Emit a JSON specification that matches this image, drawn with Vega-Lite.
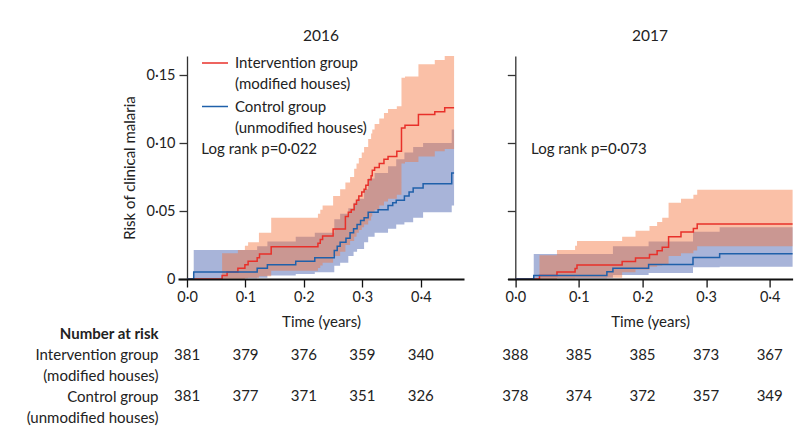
{
  "$schema": "https://vega.github.io/schema/vega-lite/v6.json",
  "background": "white",
  "padding": {"left": 26, "top": 28, "right": 5, "bottom": 2},
  "config": {
    "font": "Lato",
    "view": {"stroke": null},
    "style": {"guide-label": {"lineHeight": 21}},
    "axis": {"labelFont": "Lato", "titleFont": "Lato", "labelColor": "#222", "titleColor": "#222", "labelFontSize": 14.5, "titleFontSize": 15, "titleFontWeight": "normal", "grid": false},
    "title": {"font": "Lato", "fontSize": 15.5, "fontWeight": "normal", "color": "#222"},
    "legend": {"labelFont": "Lato", "labelFontSize": 15, "labelColor": "#222"}
  },
  "datasets": {
    "km": [
      {"year": "2016", "group": "Intervention", "t": 0, "risk": 0},
      {"year": "2016", "group": "Intervention", "t": 0.060, "risk": 0.0026},
      {"year": "2016", "group": "Intervention", "t": 0.0685, "risk": 0.0052},
      {"year": "2016", "group": "Intervention", "t": 0.087, "risk": 0.0079},
      {"year": "2016", "group": "Intervention", "t": 0.099, "risk": 0.0105},
      {"year": "2016", "group": "Intervention", "t": 0.1045, "risk": 0.0131},
      {"year": "2016", "group": "Intervention", "t": 0.120, "risk": 0.0157},
      {"year": "2016", "group": "Intervention", "t": 0.124, "risk": 0.0184},
      {"year": "2016", "group": "Intervention", "t": 0.144, "risk": 0.0237},
      {"year": "2016", "group": "Intervention", "t": 0.224, "risk": 0.0263},
      {"year": "2016", "group": "Intervention", "t": 0.228, "risk": 0.029},
      {"year": "2016", "group": "Intervention", "t": 0.232, "risk": 0.0316},
      {"year": "2016", "group": "Intervention", "t": 0.250, "risk": 0.0368},
      {"year": "2016", "group": "Intervention", "t": 0.271, "risk": 0.046},
      {"year": "2016", "group": "Intervention", "t": 0.276, "risk": 0.049},
      {"year": "2016", "group": "Intervention", "t": 0.281, "risk": 0.051},
      {"year": "2016", "group": "Intervention", "t": 0.286, "risk": 0.055},
      {"year": "2016", "group": "Intervention", "t": 0.290, "risk": 0.058},
      {"year": "2016", "group": "Intervention", "t": 0.294, "risk": 0.061},
      {"year": "2016", "group": "Intervention", "t": 0.299, "risk": 0.064},
      {"year": "2016", "group": "Intervention", "t": 0.303, "risk": 0.066},
      {"year": "2016", "group": "Intervention", "t": 0.306, "risk": 0.069},
      {"year": "2016", "group": "Intervention", "t": 0.310, "risk": 0.073},
      {"year": "2016", "group": "Intervention", "t": 0.315, "risk": 0.076},
      {"year": "2016", "group": "Intervention", "t": 0.317, "risk": 0.080},
      {"year": "2016", "group": "Intervention", "t": 0.321, "risk": 0.082},
      {"year": "2016", "group": "Intervention", "t": 0.329, "risk": 0.085},
      {"year": "2016", "group": "Intervention", "t": 0.337, "risk": 0.088},
      {"year": "2016", "group": "Intervention", "t": 0.344, "risk": 0.090},
      {"year": "2016", "group": "Intervention", "t": 0.359, "risk": 0.094},
      {"year": "2016", "group": "Intervention", "t": 0.367, "risk": 0.111},
      {"year": "2016", "group": "Intervention", "t": 0.373, "risk": 0.113},
      {"year": "2016", "group": "Intervention", "t": 0.396, "risk": 0.121},
      {"year": "2016", "group": "Intervention", "t": 0.424, "risk": 0.123},
      {"year": "2016", "group": "Intervention", "t": 0.441, "risk": 0.126},
      {"year": "2016", "group": "Intervention", "t": 0.457, "risk": 0.126},
      {"year": "2016", "group": "Control", "t": 0, "risk": 0},
      {"year": "2016", "group": "Control", "t": 0.0114, "risk": 0.0052},
      {"year": "2016", "group": "Control", "t": 0.120, "risk": 0.0079},
      {"year": "2016", "group": "Control", "t": 0.1375, "risk": 0.0105},
      {"year": "2016", "group": "Control", "t": 0.186, "risk": 0.0131},
      {"year": "2016", "group": "Control", "t": 0.2186, "risk": 0.0157},
      {"year": "2016", "group": "Control", "t": 0.252, "risk": 0.021},
      {"year": "2016", "group": "Control", "t": 0.257, "risk": 0.024},
      {"year": "2016", "group": "Control", "t": 0.262, "risk": 0.027},
      {"year": "2016", "group": "Control", "t": 0.272, "risk": 0.030},
      {"year": "2016", "group": "Control", "t": 0.279, "risk": 0.034},
      {"year": "2016", "group": "Control", "t": 0.285, "risk": 0.037},
      {"year": "2016", "group": "Control", "t": 0.291, "risk": 0.040},
      {"year": "2016", "group": "Control", "t": 0.297, "risk": 0.043},
      {"year": "2016", "group": "Control", "t": 0.303, "risk": 0.045},
      {"year": "2016", "group": "Control", "t": 0.310, "risk": 0.049},
      {"year": "2016", "group": "Control", "t": 0.327, "risk": 0.051},
      {"year": "2016", "group": "Control", "t": 0.344, "risk": 0.054},
      {"year": "2016", "group": "Control", "t": 0.352, "risk": 0.056},
      {"year": "2016", "group": "Control", "t": 0.358, "risk": 0.058},
      {"year": "2016", "group": "Control", "t": 0.372, "risk": 0.061},
      {"year": "2016", "group": "Control", "t": 0.380, "risk": 0.064},
      {"year": "2016", "group": "Control", "t": 0.387, "risk": 0.067},
      {"year": "2016", "group": "Control", "t": 0.404, "risk": 0.070},
      {"year": "2016", "group": "Control", "t": 0.453, "risk": 0.078},
      {"year": "2016", "group": "Control", "t": 0.457, "risk": 0.078},
      {"year": "2017", "group": "Intervention", "t": 0, "risk": 0},
      {"year": "2017", "group": "Intervention", "t": 0.038, "risk": 0.0026},
      {"year": "2017", "group": "Intervention", "t": 0.0655, "risk": 0.0052},
      {"year": "2017", "group": "Intervention", "t": 0.094, "risk": 0.0078},
      {"year": "2017", "group": "Intervention", "t": 0.097, "risk": 0.0103},
      {"year": "2017", "group": "Intervention", "t": 0.168, "risk": 0.0129},
      {"year": "2017", "group": "Intervention", "t": 0.189, "risk": 0.0155},
      {"year": "2017", "group": "Intervention", "t": 0.211, "risk": 0.0181},
      {"year": "2017", "group": "Intervention", "t": 0.223, "risk": 0.0207},
      {"year": "2017", "group": "Intervention", "t": 0.231, "risk": 0.0233},
      {"year": "2017", "group": "Intervention", "t": 0.241, "risk": 0.031},
      {"year": "2017", "group": "Intervention", "t": 0.2605, "risk": 0.0345},
      {"year": "2017", "group": "Intervention", "t": 0.280, "risk": 0.0371},
      {"year": "2017", "group": "Intervention", "t": 0.286, "risk": 0.0404},
      {"year": "2017", "group": "Intervention", "t": 0.436, "risk": 0.0404},
      {"year": "2017", "group": "Control", "t": 0, "risk": 0},
      {"year": "2017", "group": "Control", "t": 0.029, "risk": 0.0026},
      {"year": "2017", "group": "Control", "t": 0.144, "risk": 0.0053},
      {"year": "2017", "group": "Control", "t": 0.1535, "risk": 0.0079},
      {"year": "2017", "group": "Control", "t": 0.2096, "risk": 0.0106},
      {"year": "2017", "group": "Control", "t": 0.2794, "risk": 0.0159},
      {"year": "2017", "group": "Control", "t": 0.3213, "risk": 0.0185},
      {"year": "2017", "group": "Control", "t": 0.436, "risk": 0.0185}
    ],
    "ci": [
      {"year": "2016", "group": "Control", "t": 0.0114, "lo": 0.0005, "hi": 0.0213},
      {"year": "2016", "group": "Control", "t": 0.120, "lo": 0.001, "hi": 0.024},
      {"year": "2016", "group": "Control", "t": 0.1375, "lo": 0.0025, "hi": 0.0275},
      {"year": "2016", "group": "Control", "t": 0.186, "lo": 0.0037, "hi": 0.031},
      {"year": "2016", "group": "Control", "t": 0.2186, "lo": 0.005, "hi": 0.034},
      {"year": "2016", "group": "Control", "t": 0.252, "lo": 0.0098, "hi": 0.044},
      {"year": "2016", "group": "Control", "t": 0.262, "lo": 0.012, "hi": 0.048},
      {"year": "2016", "group": "Control", "t": 0.276, "lo": 0.017, "hi": 0.052},
      {"year": "2016", "group": "Control", "t": 0.285, "lo": 0.020, "hi": 0.056},
      {"year": "2016", "group": "Control", "t": 0.291, "lo": 0.022, "hi": 0.059},
      {"year": "2016", "group": "Control", "t": 0.303, "lo": 0.027, "hi": 0.066},
      {"year": "2016", "group": "Control", "t": 0.310, "lo": 0.031, "hi": 0.074},
      {"year": "2016", "group": "Control", "t": 0.321, "lo": 0.034, "hi": 0.078},
      {"year": "2016", "group": "Control", "t": 0.344, "lo": 0.037, "hi": 0.083},
      {"year": "2016", "group": "Control", "t": 0.358, "lo": 0.040, "hi": 0.088},
      {"year": "2016", "group": "Control", "t": 0.372, "lo": 0.0417, "hi": 0.093},
      {"year": "2016", "group": "Control", "t": 0.387, "lo": 0.045, "hi": 0.097},
      {"year": "2016", "group": "Control", "t": 0.404, "lo": 0.049, "hi": 0.100},
      {"year": "2016", "group": "Control", "t": 0.453, "lo": 0.054, "hi": 0.110},
      {"year": "2016", "group": "Control", "t": 0.457, "lo": 0.054, "hi": 0.110},
      {"year": "2016", "group": "Intervention", "t": 0.060, "lo": 0, "hi": 0.019},
      {"year": "2016", "group": "Intervention", "t": 0.087, "lo": 0, "hi": 0.0213},
      {"year": "2016", "group": "Intervention", "t": 0.099, "lo": 0.0005, "hi": 0.0245},
      {"year": "2016", "group": "Intervention", "t": 0.1045, "lo": 0.001, "hi": 0.027},
      {"year": "2016", "group": "Intervention", "t": 0.123, "lo": 0.002, "hi": 0.034},
      {"year": "2016", "group": "Intervention", "t": 0.144, "lo": 0.006, "hi": 0.045},
      {"year": "2016", "group": "Intervention", "t": 0.224, "lo": 0.008, "hi": 0.048},
      {"year": "2016", "group": "Intervention", "t": 0.228, "lo": 0.010, "hi": 0.051},
      {"year": "2016", "group": "Intervention", "t": 0.232, "lo": 0.012, "hi": 0.054},
      {"year": "2016", "group": "Intervention", "t": 0.250, "lo": 0.017, "hi": 0.061},
      {"year": "2016", "group": "Intervention", "t": 0.262, "lo": 0.020, "hi": 0.066},
      {"year": "2016", "group": "Intervention", "t": 0.271, "lo": 0.025, "hi": 0.071},
      {"year": "2016", "group": "Intervention", "t": 0.279, "lo": 0.028, "hi": 0.075},
      {"year": "2016", "group": "Intervention", "t": 0.286, "lo": 0.031, "hi": 0.081},
      {"year": "2016", "group": "Intervention", "t": 0.290, "lo": 0.034, "hi": 0.085},
      {"year": "2016", "group": "Intervention", "t": 0.294, "lo": 0.036, "hi": 0.089},
      {"year": "2016", "group": "Intervention", "t": 0.299, "lo": 0.038, "hi": 0.093},
      {"year": "2016", "group": "Intervention", "t": 0.303, "lo": 0.040, "hi": 0.097},
      {"year": "2016", "group": "Intervention", "t": 0.310, "lo": 0.043, "hi": 0.103},
      {"year": "2016", "group": "Intervention", "t": 0.315, "lo": 0.046, "hi": 0.107},
      {"year": "2016", "group": "Intervention", "t": 0.317, "lo": 0.049, "hi": 0.110},
      {"year": "2016", "group": "Intervention", "t": 0.321, "lo": 0.051, "hi": 0.114},
      {"year": "2016", "group": "Intervention", "t": 0.329, "lo": 0.054, "hi": 0.118},
      {"year": "2016", "group": "Intervention", "t": 0.337, "lo": 0.057, "hi": 0.122},
      {"year": "2016", "group": "Intervention", "t": 0.344, "lo": 0.059, "hi": 0.125},
      {"year": "2016", "group": "Intervention", "t": 0.359, "lo": 0.062, "hi": 0.127},
      {"year": "2016", "group": "Intervention", "t": 0.367, "lo": 0.085, "hi": 0.148},
      {"year": "2016", "group": "Intervention", "t": 0.373, "lo": 0.086, "hi": 0.149},
      {"year": "2016", "group": "Intervention", "t": 0.396, "lo": 0.090, "hi": 0.158},
      {"year": "2016", "group": "Intervention", "t": 0.424, "lo": 0.094, "hi": 0.161},
      {"year": "2016", "group": "Intervention", "t": 0.441, "lo": 0.0956, "hi": 0.164},
      {"year": "2016", "group": "Intervention", "t": 0.457, "lo": 0.0956, "hi": 0.164},
      {"year": "2017", "group": "Control", "t": 0.029, "lo": 0.0005, "hi": 0.0184},
      {"year": "2017", "group": "Control", "t": 0.144, "lo": 0.001, "hi": 0.0184},
      {"year": "2017", "group": "Control", "t": 0.1535, "lo": 0.003, "hi": 0.024},
      {"year": "2017", "group": "Control", "t": 0.2096, "lo": 0.0044, "hi": 0.0275},
      {"year": "2017", "group": "Control", "t": 0.2794, "lo": 0.0086, "hi": 0.0348},
      {"year": "2017", "group": "Control", "t": 0.3213, "lo": 0.009, "hi": 0.038},
      {"year": "2017", "group": "Control", "t": 0.436, "lo": 0.009, "hi": 0.038},
      {"year": "2017", "group": "Intervention", "t": 0.038, "lo": 0, "hi": 0.0175},
      {"year": "2017", "group": "Intervention", "t": 0.0655, "lo": 0.0005, "hi": 0.0213},
      {"year": "2017", "group": "Intervention", "t": 0.094, "lo": 0.001, "hi": 0.0245},
      {"year": "2017", "group": "Intervention", "t": 0.097, "lo": 0.001, "hi": 0.028},
      {"year": "2017", "group": "Intervention", "t": 0.168, "lo": 0.005, "hi": 0.031},
      {"year": "2017", "group": "Intervention", "t": 0.189, "lo": 0.007, "hi": 0.0355},
      {"year": "2017", "group": "Intervention", "t": 0.211, "lo": 0.009, "hi": 0.039},
      {"year": "2017", "group": "Intervention", "t": 0.223, "lo": 0.010, "hi": 0.042},
      {"year": "2017", "group": "Intervention", "t": 0.231, "lo": 0.011, "hi": 0.045},
      {"year": "2017", "group": "Intervention", "t": 0.241, "lo": 0.017, "hi": 0.056},
      {"year": "2017", "group": "Intervention", "t": 0.2605, "lo": 0.019, "hi": 0.059},
      {"year": "2017", "group": "Intervention", "t": 0.280, "lo": 0.021, "hi": 0.062},
      {"year": "2017", "group": "Intervention", "t": 0.286, "lo": 0.024, "hi": 0.0657},
      {"year": "2017", "group": "Intervention", "t": 0.436, "lo": 0.024, "hi": 0.0657}
    ],
    "risk": [
      {"year": "2016", "row": "Intervention group", "t": 0, "n": 381},
      {"year": "2016", "row": "Intervention group", "t": 0.1, "n": 379},
      {"year": "2016", "row": "Intervention group", "t": 0.2, "n": 376},
      {"year": "2016", "row": "Intervention group", "t": 0.3, "n": 359},
      {"year": "2016", "row": "Intervention group", "t": 0.4, "n": 340},
      {"year": "2016", "row": "Control group", "t": 0, "n": 381},
      {"year": "2016", "row": "Control group", "t": 0.1, "n": 377},
      {"year": "2016", "row": "Control group", "t": 0.2, "n": 371},
      {"year": "2016", "row": "Control group", "t": 0.3, "n": 351},
      {"year": "2016", "row": "Control group", "t": 0.4, "n": 326},
      {"year": "2017", "row": "Intervention group", "t": 0, "n": 388},
      {"year": "2017", "row": "Intervention group", "t": 0.1, "n": 385},
      {"year": "2017", "row": "Intervention group", "t": 0.2, "n": 385},
      {"year": "2017", "row": "Intervention group", "t": 0.3, "n": 373},
      {"year": "2017", "row": "Intervention group", "t": 0.4, "n": 367},
      {"year": "2017", "row": "Control group", "t": 0, "n": 378},
      {"year": "2017", "row": "Control group", "t": 0.1, "n": 374},
      {"year": "2017", "row": "Control group", "t": 0.2, "n": 372},
      {"year": "2017", "row": "Control group", "t": 0.3, "n": 357},
      {"year": "2017", "row": "Control group", "t": 0.4, "n": 349}
    ]
  },
  "columns": 2,
  "bounds": "flush",
  "spacing": {"row": 44.4, "column": 43.6},
  "concat": [
    {
      "width": 286, "height": 223,
      "title": {"text": "2016", "offset": 12},
      "layer": [
        {
          "data": {"name": "ci"},
          "transform": [{"filter": "datum.year == '2016' && datum.group == 'Control'"}],
          "mark": {"type": "area", "interpolate": "step-after", "color": "#A8B4D9", "opacity": 1},
          "encoding": {
            "x": {"field": "t", "type": "quantitative", "scale": {"domain": [-0.0155, 0.474], "nice": false, "zero": false},
              "axis": {"values": [0, 0.1, 0.2, 0.3, 0.4], "labelExpr": "replace(format(datum.value, '.1f'), '.', '·')", "title": "Time (years)", "domainColor": "#111", "domainWidth": 2, "tickColor": "#111", "tickWidth": 1.3, "tickSize": 8, "labelPadding": 3, "titlePadding": 11, "zindex": 1}},
            "y": {"field": "hi", "type": "quantitative", "scale": {"domain": [0, 0.164], "nice": false},
              "axis": {"values": [0, 0.05, 0.1, 0.15], "labelExpr": "datum.value == 0 ? '0' : replace(format(datum.value, '.2f'), '.', '·')", "title": "Risk of clinical malaria", "offset": -9, "domainColor": "#333", "domainWidth": 1.3, "tickColor": "#333", "tickWidth": 1.3, "tickSize": 8, "labelPadding": 4, "titlePadding": 8}},
            "y2": {"field": "lo"}
          }
        },
        {
          "data": {"name": "ci"},
          "transform": [{"filter": "datum.year == '2016' && datum.group == 'Intervention'"}],
          "mark": {"type": "area", "interpolate": "step-after", "color": "#F4733C", "opacity": 0.45},
          "encoding": {
            "x": {"field": "t", "type": "quantitative"},
            "y": {"field": "hi", "type": "quantitative"},
            "y2": {"field": "lo"}
          }
        },
        {
          "data": {"name": "km"},
          "transform": [{"filter": "datum.year == '2016'"}],
          "mark": {"type": "line", "interpolate": "step-after", "strokeWidth": 1.5},
          "encoding": {
            "x": {"field": "t", "type": "quantitative"},
            "y": {"field": "risk", "type": "quantitative"},
            "color": {"field": "group", "type": "nominal", "sort": ["Intervention", "Control"],
              "scale": {"domain": ["Intervention", "Control"], "range": ["#E8302A", "#1F60AA"]},
              "legend": {"orient": "none", "legendX": 23, "legendY": -7, "title": null, "symbolType": "stroke", "symbolSize": 676, "symbolStrokeWidth": 1.5, "labelOffset": 6, "rowPadding": 0.5, "padding": 0, "labelLimit": 300,
                "labelExpr": "datum.label == 'Intervention' ? ['Intervention group', '(modified houses)'] : ['Control group', '(unmodified houses)']"}}
          }
        },
        {
          "data": {"values": [{}]},
          "mark": {"type": "text", "align": "left", "baseline": "middle", "fontSize": 15, "color": "#222", "text": "Log rank p=0·022"},
          "encoding": {"x": {"datum": 0.0245, "type": "quantitative"}, "y": {"datum": 0.0956, "type": "quantitative"}}
        }
      ]
    },
    {
      "width": 285, "height": 223,
      "title": {"text": "2017", "offset": 12},
      "layer": [
        {
          "data": {"name": "ci"},
          "transform": [{"filter": "datum.year == '2017' && datum.group == 'Control'"}],
          "mark": {"type": "area", "interpolate": "step-after", "color": "#A8B4D9", "opacity": 1},
          "encoding": {
            "x": {"field": "t", "type": "quantitative", "scale": {"domain": [-0.0121, 0.436], "nice": false, "zero": false},
              "axis": {"values": [0, 0.1, 0.2, 0.3, 0.4], "labelExpr": "replace(format(datum.value, '.1f'), '.', '·')", "title": "Time (years)", "domainColor": "#111", "domainWidth": 2, "tickColor": "#111", "tickWidth": 1.3, "tickSize": 8, "labelPadding": 3, "titlePadding": 11, "zindex": 1}},
            "y": {"field": "hi", "type": "quantitative", "scale": {"domain": [0, 0.164], "nice": false},
              "axis": {"values": [0, 0.05, 0.1, 0.15], "labels": false, "title": null, "offset": -7.7, "domainColor": "#333", "domainWidth": 1.3, "tickColor": "#333", "tickWidth": 1.3, "tickSize": 8}},
            "y2": {"field": "lo"}
          }
        },
        {
          "data": {"name": "ci"},
          "transform": [{"filter": "datum.year == '2017' && datum.group == 'Intervention'"}],
          "mark": {"type": "area", "interpolate": "step-after", "color": "#F4733C", "opacity": 0.45},
          "encoding": {
            "x": {"field": "t", "type": "quantitative"},
            "y": {"field": "hi", "type": "quantitative"},
            "y2": {"field": "lo"}
          }
        },
        {
          "data": {"name": "km"},
          "transform": [{"filter": "datum.year == '2017'"}],
          "mark": {"type": "line", "interpolate": "step-after", "strokeWidth": 1.5},
          "encoding": {
            "x": {"field": "t", "type": "quantitative"},
            "y": {"field": "risk", "type": "quantitative"},
            "color": {"field": "group", "type": "nominal",
              "scale": {"domain": ["Intervention", "Control"], "range": ["#E8302A", "#1F60AA"]},
              "legend": null}
          }
        },
        {
          "data": {"values": [{}]},
          "mark": {"type": "text", "align": "left", "baseline": "middle", "fontSize": 15, "color": "#222", "text": "Log rank p=0·073"},
          "encoding": {"x": {"datum": 0.0247, "type": "quantitative"}, "y": {"datum": 0.0956, "type": "quantitative"}}
        }
      ]
    },
    {
      "width": 286, "height": 104,
      "data": {"name": "risk"},
      "transform": [{"filter": "datum.year == '2016'"}],
      "mark": {"type": "text", "fontSize": 15, "color": "#222", "baseline": "middle"},
      "encoding": {
        "x": {"field": "t", "type": "quantitative", "scale": {"domain": [-0.0155, 0.474], "nice": false, "zero": false}, "axis": null},
        "y": {"field": "row", "type": "nominal",
          "scale": {"domain": ["Number at risk", "Intervention group", "(modified houses)", "Control group", "(unmodified houses)"]},
          "axis": {"title": null, "domain": false, "ticks": false, "labelPadding": 20, "labelFontSize": 15, "labelAlign": "right", "labelLimit": 300,
            "labelFontWeight": {"condition": {"test": "datum.value == 'Number at risk'", "value": "bold"}, "value": "normal"}}},
        "text": {"field": "n", "type": "quantitative", "format": "d"}
      }
    },
    {
      "width": 285, "height": 104,
      "data": {"name": "risk"},
      "transform": [{"filter": "datum.year == '2017'"}],
      "mark": {"type": "text", "fontSize": 15, "color": "#222", "baseline": "middle"},
      "encoding": {
        "x": {"field": "t", "type": "quantitative", "scale": {"domain": [-0.0121, 0.436], "nice": false, "zero": false}, "axis": null},
        "y": {"field": "row", "type": "nominal",
          "scale": {"domain": ["Number at risk", "Intervention group", "(modified houses)", "Control group", "(unmodified houses)"]},
          "axis": null},
        "text": {"field": "n", "type": "quantitative", "format": "d"}
      }
    }
  ]
}
